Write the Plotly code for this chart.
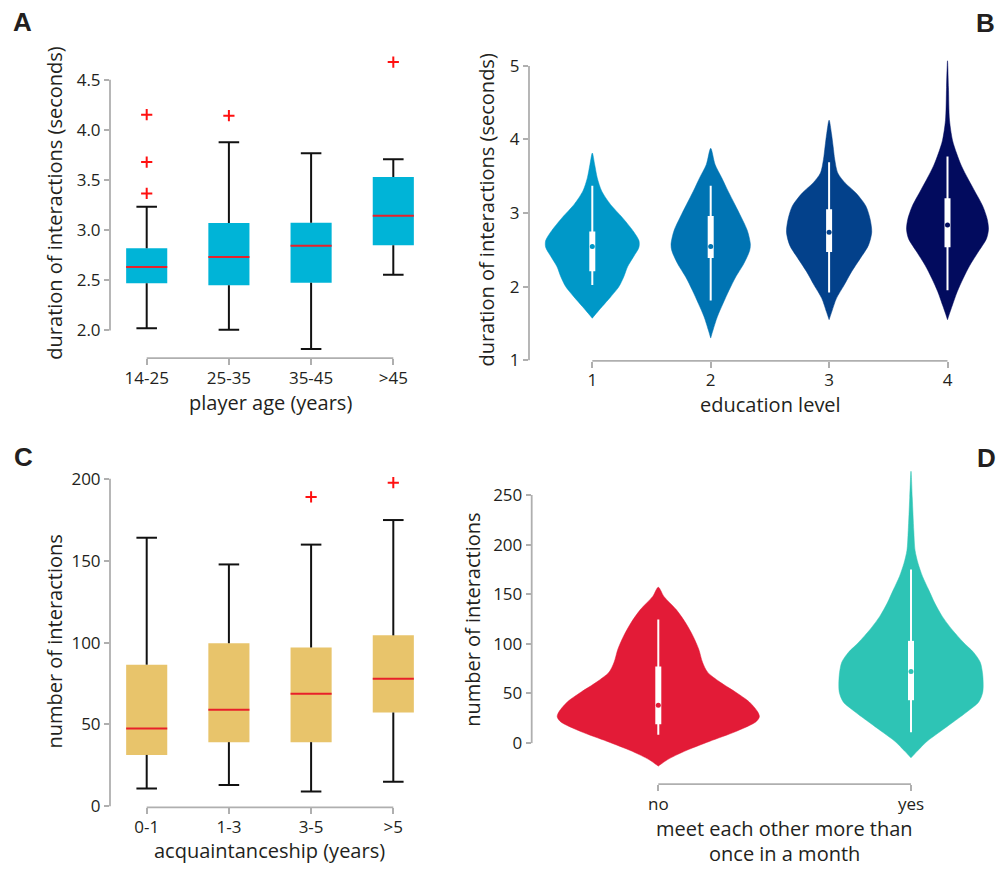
import plotly.graph_objects as go

W, H = 999, 874
FONT = "Open Sans"
TXT = "#231F20"
AX = "#AFAFAF"

# ---------------- Panel A : box plot, duration vs age ----------------
age_labels = ["14-25", "25-35", "35-45", ">45"]
age_q1 = [2.47, 2.45, 2.476, 2.851]
age_med = [2.634, 2.733, 2.844, 3.143]
age_q3 = [2.82, 3.071, 3.074, 3.531]
age_lo = [2.023, 2.007, 1.816, 2.555]
age_hi = [3.235, 3.876, 3.767, 3.708]
age_out_cat = [0, 0, 0, 1, 3]
age_out_val = [4.152, 3.679, 3.367, 4.142, 4.677]
a_yticks = [2.0, 2.5, 3.0, 3.5, 4.0, 4.5]

# ---------------- Panel B : violins, duration vs education ----------------
edu_levels = [1, 2, 3, 4]
edu_colors = ["#0098C8", "#0074B3", "#03418B", "#020B5E"]
edu_prof_y = [
    [3.815, 3.66, 3.478, 3.30, 3.12, 2.94, 2.76, 2.625, 2.535, 2.40, 2.27, 2.13, 2.00, 1.86, 1.73, 1.615, 1.57],
    [3.88, 3.66, 3.48, 3.30, 3.12, 2.94, 2.76, 2.58, 2.49, 2.31, 2.13, 1.95, 1.77, 1.59, 1.41, 1.30],
    [4.263, 4.08, 3.905, 3.725, 3.545, 3.41, 3.276, 3.097, 2.92, 2.74, 2.56, 2.38, 2.20, 2.02, 1.84, 1.66, 1.55],
    [5.07, 4.71, 4.26, 3.99, 3.815, 3.64, 3.46, 3.28, 3.10, 2.92, 2.78, 2.65, 2.47, 2.29, 2.11, 1.93, 1.75, 1.62, 1.55],
]
edu_prof_w = [
    [0, .020, .042, .079, .152, .253, .343, .394, .394, .346, .298, .265, .225, .155, .084, .023, 0],
    [0, .037, .093, .146, .203, .259, .310, .335, .329, .279, .211, .155, .104, .056, .020, 0],
    [0, .020, .034, .048, .073, .135, .225, .310, .346, .360, .332, .262, .189, .127, .062, .023, 0],
    [0, .008, .017, .042, .076, .118, .175, .236, .296, .335, .346, .329, .259, .189, .132, .082, .042, .014, 0],
]
edu_lo = [2.02, 1.81, 1.92, 1.95]
edu_hi = [3.37, 3.37, 3.69, 3.77]
edu_q1 = [2.21, 2.39, 2.47, 2.535]
edu_q3 = [2.75, 2.96, 3.05, 3.20]
edu_med = [2.545, 2.545, 2.74, 2.836]
b_yticks = [1, 2, 3, 4, 5]

# ---------------- Panel C : box plot, interactions vs acquaintanceship ----------------
acq_labels = ["0-1", "1-3", "3-5", ">5"]
acq_q1 = [31.4, 39.2, 39.2, 57.3]
acq_med = [47.5, 59.0, 68.8, 77.9]
acq_q3 = [86.5, 99.6, 97.0, 104.4]
acq_lo = [10.9, 13.1, 9.1, 15.1]
acq_hi = [164.0, 147.7, 159.8, 174.8]
acq_out_cat = [2, 3]
acq_out_val = [188.9, 197.6]
c_yticks = [0, 50, 100, 150, 200]

# ---------------- Panel D : violins, interactions vs meeting frequency ----------------
meet_labels = ["no", "yes"]
meet_colors = ["#E31B37", "#2EC4B5"]
meet_prof_y = [
    [157, 147.8, 134.5, 121.2, 108, 94.6, 81.4, 71.4, 61.5, 51.5, 41.5, 31.6, 26.6, 21.6, 11.7, 1.7, -8.3, -16.6, -23.2],
    [273.9, 247.4, 214.1, 194.2, 181, 167.7, 154.4, 141.1, 127.9, 114.5, 101.3, 91.3, 81.4, 68.1, 51.5, 41.5, 31.6, 21.6, 11.7, 1.7, -8.3, -14.9],
]
meet_prof_w = [
    [0, .022, .071, .108, .137, .160, .175, .195, .244, .305, .360, .393, .400, .387, .307, .202, .103, .037, 0],
    [0, .005, .011, .016, .028, .046, .070, .094, .123, .162, .208, .248, .274, .284, .284, .268, .222, .169, .116, .063, .024, 0],
]
meet_lo = [8.4, 11.0]
meet_hi = [124.5, 175.0]
meet_q1 = [18.9, 43.2]
meet_q3 = [77.1, 103.0]
meet_med = [38.2, 72.1]
d_yticks = [0, 50, 100, 150, 200, 250]


# ---------------- layout helpers (pixel geometry) ----------------
def xdom(p0, p1):
    return [p0 / W, p1 / W]


def ydom(top, bot):
    return [1 - bot / H, 1 - top / H]


def rng(p0, p1, va, pa, vb, pb):
    k = (vb - va) / (pb - pa)
    return [va + (p0 - pa) * k, va + (p1 - pa) * k]


fig = go.Figure()

BOX_W = 0.5
CAP_W = 0.25


def add_box(xa, ya, q1, med, q3, lo, hi, out_c, out_v, color):
    cats = list(range(len(q1)))
    fig.add_trace(go.Bar(x=cats, y=[b - a for a, b in zip(q1, q3)], base=q1, width=BOX_W,
                         marker=dict(color=color, line=dict(width=0)),
                         xaxis=xa, yaxis=ya, showlegend=False, hoverinfo="skip"))
    wx, wy, cx, cy, mx, my = [], [], [], [], [], []
    for i in cats:
        wx += [i, i, None, i, i, None]
        wy += [lo[i], q1[i], None, q3[i], hi[i], None]
        cx += [i - CAP_W / 2, i + CAP_W / 2, None, i - CAP_W / 2, i + CAP_W / 2, None]
        cy += [lo[i], lo[i], None, hi[i], hi[i], None]
        mx += [i - BOX_W / 2, i + BOX_W / 2, None]
        my += [med[i], med[i], None]
    fig.add_trace(go.Scatter(x=wx + cx, y=wy + cy, mode="lines", line=dict(color="#111111", width=2),
                             xaxis=xa, yaxis=ya, showlegend=False, hoverinfo="skip"))
    fig.add_trace(go.Scatter(x=mx, y=my, mode="lines", line=dict(color="#E8202A", width=2),
                             xaxis=xa, yaxis=ya, showlegend=False, hoverinfo="skip"))
    fig.add_trace(go.Scatter(x=out_c, y=out_v, mode="markers",
                             marker=dict(symbol="cross-thin", size=8, line=dict(color="#FF1010", width=2)),
                             xaxis=xa, yaxis=ya, showlegend=False, hoverinfo="skip"))


def add_violins(xa, ya, centers, prof_y, prof_w, colors, lo, hi, q1, q3, med):
    for c, py, pw, col, l, h, a, b, m in zip(centers, prof_y, prof_w, colors, lo, hi, q1, q3, med):
        xs = [c + w for w in pw] + [c - w for w in reversed(pw)]
        ys = list(py) + list(reversed(py))
        fig.add_trace(go.Scatter(x=xs, y=ys, mode="lines", fill="toself", fillcolor=col,
                                 line=dict(color=col, width=0.5, shape="spline", smoothing=0.8),
                                 xaxis=xa, yaxis=ya, showlegend=False, hoverinfo="skip"))
        fig.add_trace(go.Scatter(x=[c, c], y=[l, h], mode="lines", line=dict(color="white", width=2),
                                 xaxis=xa, yaxis=ya, showlegend=False, hoverinfo="skip"))
        fig.add_trace(go.Scatter(x=[c, c], y=[a, b], mode="lines", line=dict(color="white", width=6),
                                 xaxis=xa, yaxis=ya, showlegend=False, hoverinfo="skip"))
        fig.add_trace(go.Scatter(x=[c], y=[m], mode="markers", marker=dict(color=col, size=5),
                                 xaxis=xa, yaxis=ya, showlegend=False, hoverinfo="skip"))


add_box("x", "y", age_q1, age_med, age_q3, age_lo, age_hi, age_out_cat, age_out_val, "#00B4D7")
add_violins("x2", "y2", edu_levels, edu_prof_y, edu_prof_w, edu_colors, edu_lo, edu_hi, edu_q1, edu_q3, edu_med)
add_box("x3", "y3", acq_q1, acq_med, acq_q3, acq_lo, acq_hi, acq_out_cat, acq_out_val, "#E8C46B")
add_violins("x4", "y4", [0, 1], meet_prof_y, meet_prof_w, meet_colors, meet_lo, meet_hi, meet_q1, meet_q3, meet_med)

TICK_SIZE = 17
TITLE_SIZE = 20
tickfont = dict(family=FONT, size=TICK_SIZE, color=TXT)
common_x = dict(showgrid=False, zeroline=False, showline=False, ticks="outside", ticklen=6,
                tickwidth=1.5, tickcolor=AX, tickfont=tickfont, fixedrange=True,
                ticklabelstandoff=-2)
common_y = dict(showgrid=False, zeroline=False, showline=False, ticks="outside", ticklen=5,
                tickwidth=1.5, tickcolor=AX, tickfont=tickfont, fixedrange=True)

fig.update_layout(
    width=W, height=H, margin=dict(l=0, r=0, t=0, b=0),
    paper_bgcolor="white", plot_bgcolor="white", barmode="overlay", showlegend=False,
    xaxis=dict(common_x, domain=xdom(110, 420), range=rng(110, 420, 0, 146.7, 3, 393.3),
               tickvals=list(range(4)), ticktext=age_labels, anchor="y"),
    yaxis=dict(common_y, domain=ydom(48, 362.3), range=rng(362.3, 48, 2.0, 334.3, 4.5, 80.7),
               tickvals=a_yticks, tickformat=".1f", anchor="x"),
    xaxis2=dict(common_x, domain=xdom(529, 997), range=rng(529, 997, 1, 592.3, 4, 947.5),
                tickvals=edu_levels, anchor="y2"),
    yaxis2=dict(common_y, domain=ydom(50, 365), range=rng(365, 50, 1, 364.3, 5, 66.7),
                tickvals=b_yticks, anchor="x2"),
    xaxis3=dict(common_x, domain=xdom(110, 420), range=rng(110, 420, 0, 146.7, 3, 393.3),
                tickvals=list(range(4)), ticktext=acq_labels, anchor="y3"),
    yaxis3=dict(common_y, domain=ydom(470, 816.7), range=rng(816.7, 470, 0, 815.7, 200, 484.3),
                tickvals=c_yticks, anchor="x3"),
    xaxis4=dict(common_x, domain=xdom(531.7, 997), range=rng(531.7, 997, 0, 658.3, 1, 911),
                tickvals=[0, 1], ticktext=meet_labels, anchor="y4"),
    yaxis4=dict(common_y, domain=ydom(470, 793.3), range=rng(793.3, 470, 0, 751.7, 250, 500.7),
                tickvals=d_yticks, anchor="x4"),
)

# trimmed spines
spines = [
    ("x", "y", [0, 3], [a_yticks[0], a_yticks[-1]]),
    ("x2", "y2", [edu_levels[0], edu_levels[-1]], [b_yticks[0], b_yticks[-1]]),
    ("x3", "y3", [0, 3], [c_yticks[0], c_yticks[-1]]),
    ("x4", "y4", [0, 1], [d_yticks[0], d_yticks[-1]]),
]
for xa, ya, xr, yr in spines:
    fig.add_shape(type="line", xref=f"{xa} domain", yref=ya, x0=0, x1=0, y0=yr[0], y1=yr[1],
                  line=dict(color=AX, width=1.8))
    fig.add_shape(type="line", xref=xa, yref=f"{ya} domain", x0=xr[0], x1=xr[1], y0=0, y1=0,
                  line=dict(color=AX, width=1.8))


def ann(text, px, py, size=TITLE_SIZE, angle=0, bold=False):
    fig.add_annotation(text=f"<b>{text}</b>" if bold else text, x=px / W, y=1 - py / H,
                       xref="paper", yref="paper", showarrow=False, textangle=angle,
                       xanchor="center", yanchor="middle",
                       font=dict(family=FONT if not bold else "Liberation Sans", size=size, color=TXT))


# panel letters
ann("A", 22, 22, size=26, bold=True)
ann("B", 985, 23, size=26, bold=True)
ann("C", 23, 462, size=26, bold=True)
ann("D", 986, 463, size=26, bold=True)

# axis titles
ann("duration of interactions (seconds)", 55, 206, angle=-90)
ann("player age (years)", 270, 407)
ann("duration of interactions (seconds)", 487, 213, angle=-90)
ann("education level", 770, 409)
ann("number of interactions", 55, 649, angle=-90)
ann("acquaintanceship (years)", 269, 860)
ann("number of interactions", 473, 627, angle=-90)
ann("meet each other more than", 784, 838)
ann("once in a month", 784, 863)

fig.write_html("out.html")
